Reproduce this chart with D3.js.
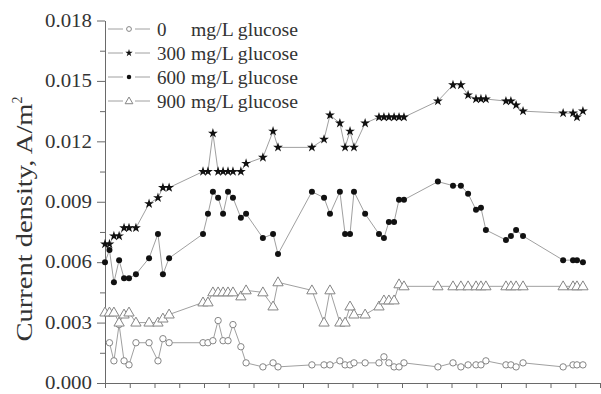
<!DOCTYPE html>
<html>
<head>
<meta charset="utf-8">
<script src="https://cdn.jsdelivr.net/npm/d3@7/dist/d3.min.js"></script>
<style>
  html, body { margin: 0; padding: 0; background: #fff; }
  svg { display: block; }
  text { font-family: "Liberation Serif", "Times New Roman", serif; }
</style>
</head>
<body>
<svg id="chart" width="601" height="394"></svg>
<script>
// ---- data ----
const timePoints = [0, 0.18, 0.36, 0.57, 0.77, 0.97, 1.25, 1.78, 2.14, 2.34, 2.59, 3.96, 4.16, 4.36, 4.57, 4.77, 4.97, 5.17, 5.49, 5.70, 6.38, 6.79, 6.99, 8.36, 8.85, 9.09, 9.49, 9.70, 9.90, 10.06, 10.51, 11.07, 11.27, 11.47, 11.68, 11.88, 12.08, 13.45, 14.06, 14.38, 14.67, 14.99, 15.19, 15.39, 16.20, 16.40, 16.61, 16.89, 18.51, 18.91, 19.07, 19.31];

const glucose0 = [null, 0.0020, 0.0011, 0.0029, 0.0011, 0.0009, 0.0020, 0.0020, 0.0011, 0.0022, 0.0020, 0.0020, 0.0020, 0.0021, 0.0031, 0.0021, 0.0021, 0.0029, 0.0018, 0.0010, 0.0008, 0.0010, 0.0008, 0.0009, 0.0009, 0.0009, 0.0011, 0.0009, 0.0009, 0.0010, 0.0010, 0.0010, 0.0013, 0.0010, 0.0008, 0.0008, 0.0010, 0.0008, 0.0010, 0.0008, 0.0009, 0.0009, 0.0009, 0.0011, 0.0009, 0.0009, 0.0008, 0.0010, 0.0008, 0.0009, 0.0009, 0.0009];

const glucose300 = [0.0069, 0.0069, 0.0073, 0.0073, 0.0077, 0.0077, 0.0077, 0.0089, 0.0092, 0.0097, 0.0097, 0.0105, 0.0105, 0.0124, 0.0105, 0.0105, 0.0105, 0.0105, 0.0105, 0.0109, 0.0112, 0.0125, 0.0117, 0.0117, 0.0121, 0.0133, 0.0129, 0.0117, 0.0125, 0.0117, 0.0129, 0.0132, 0.0132, 0.0132, 0.0132, 0.0132, 0.0132, 0.0140, 0.0148, 0.0148, 0.0143, 0.0141, 0.0141, 0.0141, 0.0140, 0.0140, 0.0138, 0.0135, 0.0134, 0.0134, 0.0132, 0.0135];

const glucose600 = [0.0060, 0.0066, 0.0050, 0.0061, 0.0052, 0.0052, 0.0054, 0.0062, 0.0074, 0.0054, 0.0062, 0.0074, 0.0084, 0.0095, 0.0092, 0.0084, 0.0095, 0.0092, 0.0082, 0.0084, 0.0072, 0.0074, 0.0064, 0.0095, 0.0092, 0.0084, 0.0095, 0.0074, 0.0074, 0.0095, 0.0084, 0.0074, 0.0072, 0.0080, 0.0080, 0.0091, 0.0091, 0.0100, 0.0098, 0.0098, 0.0094, 0.0086, 0.0087, 0.0076, 0.0071, 0.0073, 0.0076, 0.0073, 0.0061, 0.0061, 0.0061, 0.0060];

const glucose900 = [0.0035, 0.0035, 0.0035, 0.0030, 0.0034, 0.0035, 0.0030, 0.0030, 0.0030, 0.0032, 0.0034, 0.0040, 0.0040, 0.0045, 0.0045, 0.0045, 0.0045, 0.0045, 0.0043, 0.0046, 0.0045, 0.0038, 0.0050, 0.0046, 0.0030, 0.0046, 0.0030, 0.0030, 0.0038, 0.0034, 0.0034, 0.0038, 0.0041, 0.0041, 0.0041, 0.0049, 0.0048, 0.0048, 0.0048, 0.0048, 0.0048, 0.0048, 0.0048, 0.0048, 0.0048, 0.0048, 0.0048, 0.0048, 0.0048, 0.0048, 0.0048, 0.0048];

const seriesNames = ["0", "300", "600", "900"];
const legendUnit = "mg/L glucose";
const yTickValues = [0, 0.003, 0.006, 0.009, 0.012, 0.015, 0.018];
const yMinorTickValues = [0.0015, 0.0045, 0.0075, 0.0105, 0.0135, 0.0165];
const xTickValues = d3.range(0, 21, 1);
const yAxisTitle = "Current density, A/m";
const yAxisTitleSup = "2";

// ---- chart ----
const svg = d3.select("#chart");
const x = d3.scaleLinear().domain([0, 20]).range([105, 600]);
const y = d3.scaleLinear().domain([0, 0.018]).range([383, 20.5]);

const axisColor = "#6a6a6a";
const lineColor = "#a0a0a0";
const openStroke = "#858585";

// axes
const gy = svg.append("g").attr("transform", `translate(${x(0)},0)`)
  .call(d3.axisLeft(y).tickValues(yTickValues).tickSize(8).tickPadding(5)
    .tickSizeOuter(0).tickFormat(d3.format(".3f")));
gy.select(".domain").attr("stroke", axisColor);
gy.selectAll(".tick line").attr("stroke", axisColor);
gy.selectAll(".tick text").attr("fill", "#333").attr("font-size", 18)
  .attr("font-family", "Liberation Serif").attr("textLength", 47).attr("lengthAdjust", "spacingAndGlyphs");

const gyMinor = svg.append("g").attr("transform", `translate(${x(0)},0)`)
  .call(d3.axisLeft(y).tickValues(yMinorTickValues).tickSize(5).tickFormat(""));
gyMinor.select(".domain").remove();
gyMinor.selectAll(".tick line").attr("stroke", axisColor);

const gx = svg.append("g").attr("transform", `translate(0,${y(0)})`)
  .call(d3.axisBottom(x).tickValues(xTickValues).tickSize(5).tickSizeOuter(0).tickFormat(""));
gx.select(".domain").attr("stroke", axisColor);
gx.selectAll(".tick line").attr("stroke", axisColor);

// y title
const yt = svg.append("text")
  .attr("transform", "translate(32,219) rotate(-90)")
  .attr("text-anchor", "middle")
  .attr("font-size", 23)
  .attr("fill", "#333");
yt.append("tspan").text(yAxisTitle)
  .attr("textLength", 238).attr("lengthAdjust", "spacingAndGlyphs");
yt.append("tspan").text(yAxisTitleSup).attr("font-size", 14).attr("dy", -10);

// series definitions
const starSym = d3.symbol().type(d3.symbolStar);
const triSym = d3.symbol().type(d3.symbolTriangle);

const series = [
  { name: seriesNames[0], values: glucose0, marker: "circleOpen" },
  { name: seriesNames[1], values: glucose300, marker: "star" },
  { name: seriesNames[2], values: glucose600, marker: "dot" },
  { name: seriesNames[3], values: glucose900, marker: "triangle" }
];

function drawMarker(g, type, cx, cy, scale) {
  const s = scale || 1;
  if (type === "circleOpen") {
    g.append("circle").attr("cx", cx).attr("cy", cy).attr("r", 3.2 * s)
      .attr("fill", "#fff").attr("stroke", openStroke).attr("stroke-width", 1);
  } else if (type === "dot") {
    g.append("circle").attr("cx", cx).attr("cy", cy).attr("r", 3 * s)
      .attr("fill", "#111");
  } else if (type === "star") {
    g.append("path").attr("d", starSym.size(30 * s * s)()).attr("transform", `translate(${cx},${cy})`)
      .attr("fill", "#111");
  } else if (type === "triangle") {
    g.append("path").attr("d", triSym.size(46 * s * s)()).attr("transform", `translate(${cx},${cy + 0.5})`)
      .attr("fill", "#fff").attr("stroke", openStroke).attr("stroke-width", 1);
  }
}

const line = d3.line()
  .defined(d => d.v !== null)
  .x(d => x(d.t))
  .y(d => y(d.v));

series.forEach(s => {
  const pts = timePoints.map((t, i) => ({ t, v: s.values[i] }));
  const g = svg.append("g");
  g.append("path").datum(pts).attr("d", line)
    .attr("fill", "none").attr("stroke", lineColor).attr("stroke-width", 1);
  pts.filter(p => p.v !== null).forEach(p => drawMarker(g, s.marker, x(p.t), y(p.v)));
});

// legend
const legendRows = [29, 53, 77, 101];
const lg = svg.append("g");
series.forEach((s, i) => {
  const ly = legendRows[i];
  lg.append("line").attr("x1", 108).attr("x2", 123).attr("y1", ly).attr("y2", ly)
    .attr("stroke", lineColor).attr("stroke-width", 1);
  lg.append("line").attr("x1", 135).attr("x2", 150).attr("y1", ly).attr("y2", ly)
    .attr("stroke", lineColor).attr("stroke-width", 1);
  drawMarker(lg, s.marker, 129, ly, 0.75);
  lg.append("text").attr("x", 157).attr("y", ly).attr("dy", "0.35em")
    .attr("font-size", 19).attr("fill", "#333").text(s.name);
  lg.append("text").attr("x", 191).attr("y", ly).attr("dy", "0.35em")
    .attr("font-size", 19).attr("fill", "#333")
    .attr("textLength", 107).attr("lengthAdjust", "spacingAndGlyphs").text(legendUnit);
});
</script>
</body>
</html>
